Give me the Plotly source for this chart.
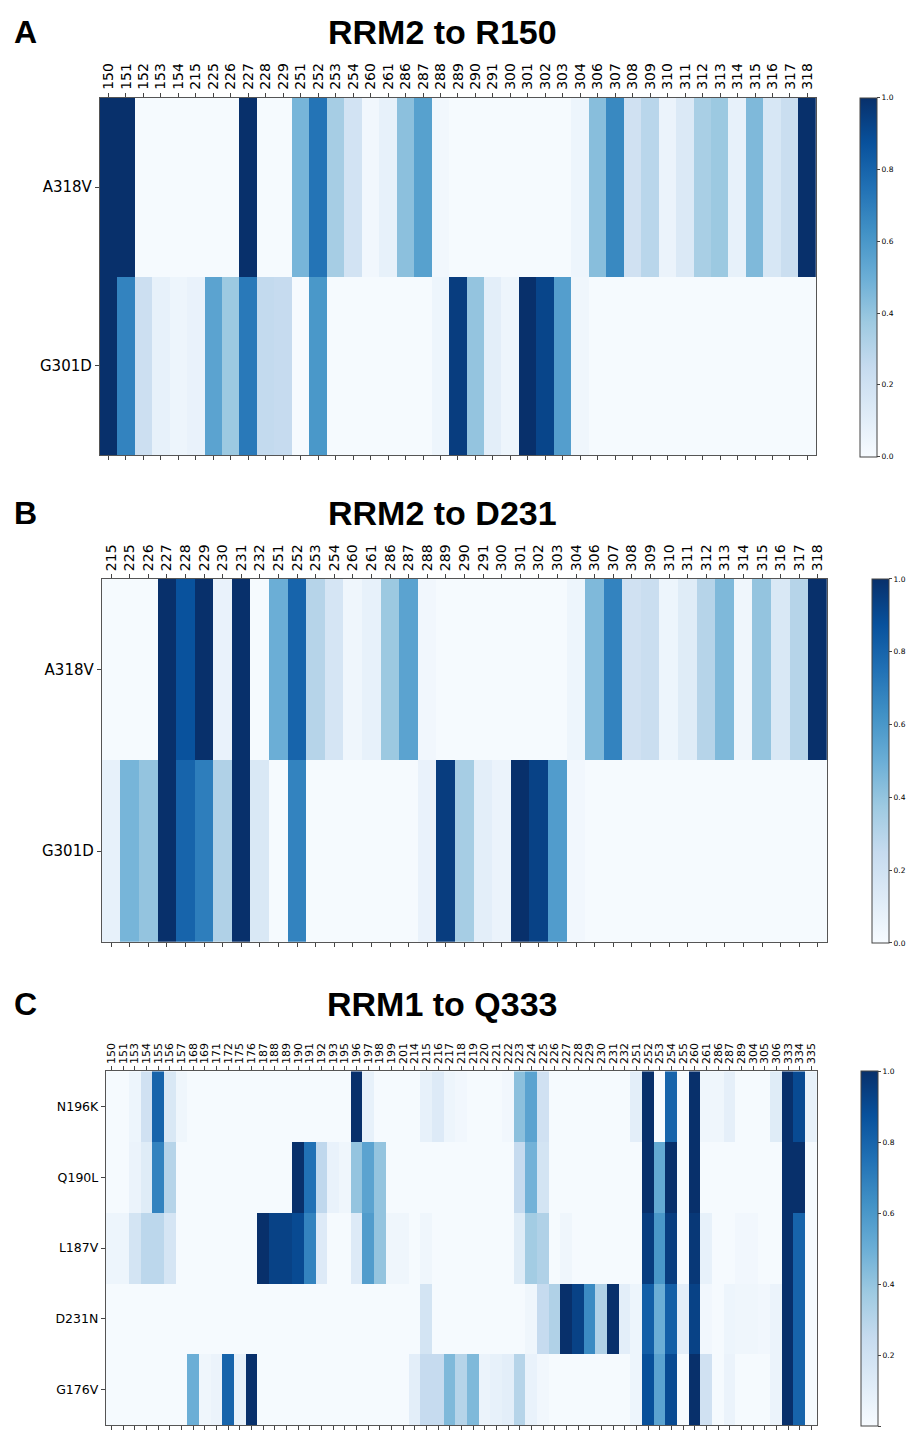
import plotly.graph_objects as go

# ---------------- data ----------------
rows_AB = ["A318V", "G301D"]

cols_A = [150, 151, 152, 153, 154, 215, 225, 226, 227, 228, 229, 251, 252, 253, 254, 260,
          261, 286, 287, 288, 289, 290, 291, 300, 301, 302, 303, 304, 306, 307, 308, 309,
          310, 311, 312, 313, 314, 315, 316, 317, 318]
A_A318V = [1.0, 1.0, 0.01, 0.01, 0.01, 0.01, 0.01, 0.01, 1.0, 0.01, 0.01, 0.47, 0.74, 0.35, 0.19, 0.03,
           0.08, 0.42, 0.56, 0.03, 0.01, 0.01, 0.01, 0.01, 0.01, 0.01, 0.01, 0.05, 0.43, 0.66, 0.2, 0.29,
           0.06, 0.14, 0.34, 0.38, 0.08, 0.45, 0.16, 0.23, 1.0]
A_G301D = [1.0, 0.68, 0.22, 0.08, 0.05, 0.07, 0.55, 0.38, 0.72, 0.26, 0.25, 0.01, 0.6, 0.01, 0.01, 0.01,
           0.01, 0.01, 0.01, 0.05, 0.95, 0.4, 0.1, 0.05, 1.0, 0.92, 0.57, 0.04, 0.01, 0.01, 0.01, 0.01,
           0.01, 0.01, 0.01, 0.01, 0.01, 0.01, 0.01, 0.01, 0.01]

cols_B = [215, 225, 226, 227, 228, 229, 230, 231, 232, 251, 252, 253, 254, 260, 261, 286,
          287, 288, 289, 290, 291, 300, 301, 302, 303, 304, 306, 307, 308, 309, 310, 311,
          312, 313, 314, 315, 316, 317, 318]
B_A318V = [0.01, 0.01, 0.01, 1.0, 0.87, 1.0, 0.07, 1.0, 0.01, 0.5, 0.8, 0.3, 0.17, 0.04, 0.08, 0.38,
           0.55, 0.03, 0.01, 0.01, 0.01, 0.01, 0.01, 0.01, 0.01, 0.05, 0.45, 0.68, 0.2, 0.23, 0.05, 0.12,
           0.3, 0.45, 0.04, 0.4, 0.15, 0.3, 1.0]
B_G301D = [0.08, 0.47, 0.4, 1.0, 0.8, 0.7, 0.32, 1.0, 0.15, 0.01, 0.68, 0.01, 0.01, 0.01, 0.01, 0.01,
           0.01, 0.07, 0.95, 0.35, 0.1, 0.06, 1.0, 0.93, 0.58, 0.03, 0.01, 0.01, 0.01, 0.01, 0.01, 0.01,
           0.01, 0.01, 0.01, 0.01, 0.01, 0.01, 0.01]

rows_C = ["N196K", "Q190L", "L187V", "D231N", "G176V"]
cols_C = [150, 151, 153, 154, 155, 156, 157, 168, 169, 171, 172, 175, 176, 187, 188, 189,
          190, 191, 192, 193, 195, 196, 197, 198, 199, 201, 214, 215, 216, 217, 218, 219,
          220, 221, 222, 223, 224, 225, 226, 227, 228, 229, 230, 231, 232, 251, 252, 253,
          254, 255, 260, 261, 286, 287, 289, 304, 305, 306, 333, 334, 335]
C_N196K = [0.01, 0.01, 0.05, 0.2, 0.8, 0.15, 0.04, 0.01, 0.01, 0.01, 0.01, 0.01, 0.01, 0.01, 0.01, 0.01,
           0.01, 0.01, 0.01, 0.01, 0.01, 1.0, 0.08, 0.01, 0.01, 0.01, 0.01, 0.08, 0.13, 0.05, 0.03, 0.01,
           0.01, 0.01, 0.03, 0.42, 0.55, 0.2, 0.01, 0.01, 0.01, 0.01, 0.01, 0.01, 0.01, 0.1, 1.0, 0.0,
           0.8, 0.01, 1.0, 0.04, 0.04, 0.09, 0.01, 0.01, 0.01, 0.12, 1.0, 0.9, 0.08]
C_Q190L = [0.01, 0.01, 0.06, 0.12, 0.68, 0.3, 0.01, 0.01, 0.01, 0.01, 0.01, 0.01, 0.01, 0.01, 0.01, 0.01,
           1.0, 0.75, 0.27, 0.07, 0.04, 0.4, 0.55, 0.4, 0.01, 0.01, 0.01, 0.01, 0.01, 0.01, 0.01, 0.01,
           0.01, 0.01, 0.01, 0.25, 0.48, 0.18, 0.01, 0.01, 0.01, 0.01, 0.01, 0.01, 0.01, 0.01, 1.0, 0.52,
           1.0, 0.01, 1.0, 0.01, 0.01, 0.01, 0.01, 0.01, 0.01, 0.01, 1.0, 1.0, 0.01]
C_L187V = [0.05, 0.05, 0.18, 0.28, 0.28, 0.17, 0.01, 0.01, 0.01, 0.01, 0.01, 0.01, 0.01, 1.0, 0.93, 0.93,
           0.9, 0.68, 0.13, 0.01, 0.01, 0.13, 0.58, 0.4, 0.04, 0.04, 0.01, 0.04, 0.01, 0.01, 0.01, 0.01,
           0.01, 0.01, 0.01, 0.12, 0.36, 0.32, 0.01, 0.04, 0.01, 0.01, 0.01, 0.01, 0.01, 0.01, 0.95, 0.6,
           0.95, 0.01, 0.97, 0.08, 0.01, 0.01, 0.03, 0.03, 0.01, 0.01, 1.0, 0.8, 0.01]
C_D231N = [0.01, 0.01, 0.01, 0.01, 0.01, 0.01, 0.01, 0.01, 0.01, 0.01, 0.01, 0.01, 0.01, 0.01, 0.01, 0.01,
           0.01, 0.01, 0.01, 0.01, 0.01, 0.01, 0.01, 0.01, 0.01, 0.01, 0.01, 0.18, 0.01, 0.01, 0.01, 0.01,
           0.01, 0.01, 0.01, 0.01, 0.04, 0.25, 0.32, 1.0, 0.93, 0.65, 0.32, 1.0, 0.1, 0.05, 0.82, 0.5,
           0.82, 0.1, 0.93, 0.03, 0.01, 0.05, 0.04, 0.04, 0.03, 0.06, 1.0, 0.8, 0.01]
C_G176V = [0.01, 0.01, 0.01, 0.01, 0.01, 0.01, 0.01, 0.5, 0.04, 0.06, 0.8, 0.08, 1.0, 0.01, 0.01, 0.01,
           0.01, 0.01, 0.01, 0.01, 0.01, 0.01, 0.01, 0.01, 0.01, 0.01, 0.1, 0.25, 0.25, 0.45, 0.3, 0.45,
           0.06, 0.08, 0.1, 0.3, 0.07, 0.03, 0.01, 0.01, 0.01, 0.01, 0.01, 0.01, 0.01, 0.05, 0.88, 0.55,
           0.9, 0.01, 1.0, 0.2, 0.01, 0.06, 0.01, 0.01, 0.01, 0.06, 1.0, 0.8, 0.01]

titles = ["RRM2 to R150", "RRM2 to D231", "RRM1 to Q333"]
letters = ["A", "B", "C"]

# ---------------- styling ----------------
W, H = 912, 1430
blues = [[0.0, "#f7fbff"], [0.125, "#deebf7"], [0.25, "#c6dbef"], [0.375, "#9ecae1"],
         [0.5, "#6baed6"], [0.625, "#4292c6"], [0.75, "#2171b5"], [0.875, "#08519c"],
         [1.0, "#08306b"]]
TICKFONT = "DejaVu Sans"
TITLEFONT = "Liberation Sans, Arial, sans-serif"


def fx(px):
    return px / W


def fy(py):
    return 1 - py / H


panels = [
    dict(cols=cols_A, rows=rows_AB, z=[A_A318V, A_G301D], box=(99, 817, 98, 457), cb=861,
         xfs=14, yfs=15, title_y=32),
    dict(cols=cols_B, rows=rows_AB, z=[B_A318V, B_G301D], box=(101, 828, 581, 945), cb=873,
         xfs=14, yfs=15, title_y=515),
    dict(cols=cols_C, rows=rows_C, z=[C_N196K, C_Q190L, C_L187V, C_D231N, C_G176V],
         box=(105, 818, 1075, 1430), cb=862, xfs=11, yfs=12.5, title_y=1008),
]

fig = go.Figure()
annotations = []
for i, p in enumerate(panels):
    l, r, t, b = p["box"]
    n = "" if i == 0 else str(i + 1)
    xcats = [str(c) for c in p["cols"]]
    fig.add_trace(go.Heatmap(
        z=p["z"], x=xcats, y=p["rows"],
        colorscale=blues, zmin=0, zmax=1,
        xaxis="x" + n, yaxis="y" + n,
        colorbar=dict(
            x=fx(p["cb"]), xanchor="left", xpad=0, ypad=0,
            y=fy(t), yanchor="top", lenmode="pixels", len=b - t,
            thicknessmode="pixels", thickness=17,
            outlinewidth=1, outlinecolor="#444",
            tickvals=[0, 0.2, 0.4, 0.6, 0.8, 1.0], tickformat=".1f",
            ticks="outside", ticklen=3, tickwidth=0.8, tickcolor="#444",
            tickfont=dict(family=TICKFONT, size=7.5, color="black"),
        ),
        hoverinfo="x+y+z",
    ))
    fig.update_layout(**{
        "xaxis" + n: dict(
            domain=[fx(l), fx(r)], anchor="y" + n, type="category", side="top",
            tickmode="array", tickvals=xcats, ticktext=xcats,
            tickangle=-90, tickfont=dict(family=TICKFONT, size=p["xfs"], color="black"),
            ticks="outside", ticklen=4, tickcolor="#444", tickwidth=0.8,
            showline=True, linecolor="#555", linewidth=1, mirror="ticks",
            showgrid=False, zeroline=False, fixedrange=True,
        ),
        "yaxis" + n: dict(
            domain=[fy(b), fy(t)], anchor="x" + n, type="category", autorange="reversed",
            tickfont=dict(family=TICKFONT, size=p["yfs"], color="black"),
            ticks="outside", ticklen=4, tickcolor="#444", tickwidth=0.8,
            showline=True, linecolor="#555", linewidth=1, mirror=True,
            showgrid=False, zeroline=False, fixedrange=True,
        ),
    })
    annotations.append(dict(
        text="<b>" + titles[i] + "</b>", x=fx(442), y=fy(p["title_y"]),
        xref="paper", yref="paper", xanchor="center", yanchor="middle", showarrow=False,
        font=dict(family=TITLEFONT, size=34, color="black")))
    annotations.append(dict(
        text="<b>" + letters[i] + "</b>", x=fx(11), y=fy(p["title_y"]),
        xref="paper", yref="paper", xanchor="left", yanchor="middle", showarrow=False,
        font=dict(family=TITLEFONT, size=32, color="black")))

fig.update_layout(
    width=W, height=H, autosize=False,
    margin=dict(l=0, r=0, t=0, b=0),
    paper_bgcolor="white", plot_bgcolor="white",
    annotations=annotations, showlegend=False,
)

fig.write_html("out.html", config={"displayModeBar": False},
               post_script="document.body.style.margin='0';document.body.style.overflow='hidden';")
